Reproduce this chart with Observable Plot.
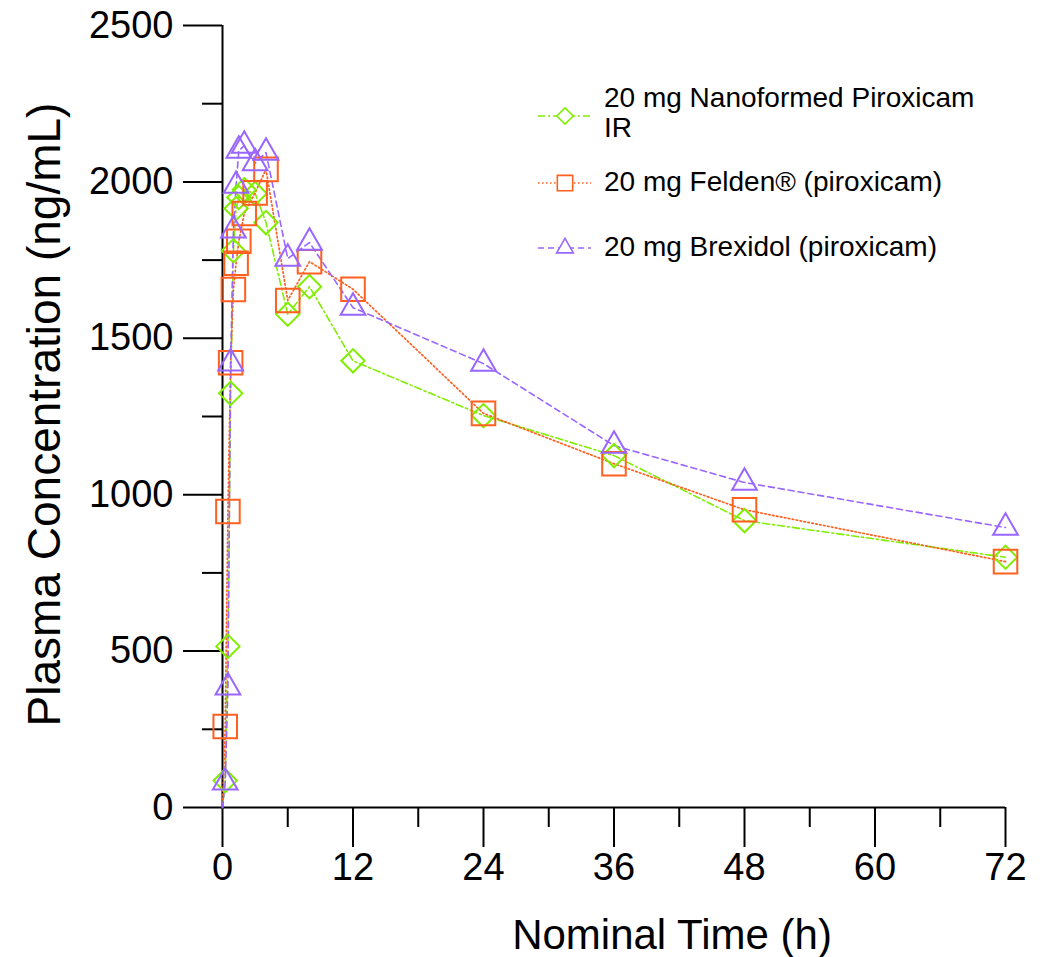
<!DOCTYPE html>
<html>
<head>
<meta charset="utf-8">
<script src="https://cdn.jsdelivr.net/npm/d3@7"></script>
<script src="https://cdn.jsdelivr.net/npm/@observablehq/plot@0.6"></script>
<style>
  html, body { margin: 0; padding: 0; background: #fff; }
  #wrap { position: relative; width: 1050px; height: 957px; }
  #legend { position: absolute; left: 0; top: 0; pointer-events: none; }
</style>
</head>
<body>
<div id="wrap"></div>
<script>
// ---- data ----
const times = [0, 0.25, 0.5, 0.75, 1, 1.25, 1.5, 2, 3, 4, 6, 8, 12, 24, 36, 48, 72];
const nanoformed = [0, 86, 515, 1324, 1780, 1915, 1950, 1975, 1963, 1870, 1577, 1665, 1428, 1253, 1125, 917, 800];
const felden     = [0, 259, 946, 1422, 1656, 1740, 1810, 1899, 1965, 2040, 1621, 1745, 1657, 1260, 1099, 952, 786];
const brexidol   = [0, 80, 384, 1420, 1845, 1988, 2100, 2116, 2060, 2094, 1755, 1806, 1598, 1419, 1157, 1039, 895];

const seriesNames = ["20 mg Nanoformed Piroxicam IR", "20 mg Felden® (piroxicam)", "20 mg Brexidol (piroxicam)"];
const legendLines = [["20 mg Nanoformed Piroxicam", "IR"], ["20 mg Felden® (piroxicam)"], ["20 mg Brexidol (piroxicam)"]];
const seriesColors = ["#80ee00", "#ff5f1f", "#9966ff"];
const yMajorTicks = [0, 500, 1000, 1500, 2000, 2500];
const yMinorTicks = [250, 750, 1250, 1750, 2250];
const xMajorTicks = [0, 12, 24, 36, 48, 60, 72];
const xMinorTicks = [6, 18, 30, 42, 54, 66];
const xTitle = "Nominal Time (h)";
const yTitle = "Plasma Concentration (ng/mL)";

// ---- styles per series ----
const styles = [
  {symbol: "diamond2", r: 10.5, dash: "7,3,2,3", width: 1.6},
  {symbol: "square2", r: 15, dash: "1.5,2.5", width: 1.7},
  {symbol: "triangle2", r: 11.8, dash: "6,4", width: 1.6}
];

const allValues = [nanoformed, felden, brexidol];
const tables = allValues.map((vals, i) => times.map((t, j) => ({t, c: vals[j], s: seriesNames[i]})));

const font = "'Liberation Sans', Arial, Helvetica, sans-serif";
const fmt = d => String(d);

const marks = [
  Plot.axisY(yMajorTicks, {tickSize: 39, tickPadding: 10, fontSize: 38, label: null, strokeWidth: 2, tickFormat: fmt}),
  Plot.axisY(yMinorTicks, {tickSize: 20, text: null, label: null, strokeWidth: 2}),
  Plot.axisX(xMajorTicks, {tickSize: 40, tickPadding: 6, fontSize: 38, label: null, strokeWidth: 2, tickFormat: fmt}),
  Plot.axisX(xMinorTicks, {tickSize: 20, text: null, label: null, strokeWidth: 2}),
  Plot.ruleX([0], {strokeWidth: 2}),
  Plot.ruleY([0], {strokeWidth: 2})
];

tables.forEach((tab, i) => {
  marks.push(Plot.line(tab, {x: "t", y: "c", stroke: seriesColors[i], strokeWidth: styles[i].width, strokeDasharray: styles[i].dash}));
});
tables.forEach((tab, i) => {
  marks.push(Plot.dot(tab, {filter: d => d.c > 0, x: "t", y: "c", symbol: styles[i].symbol, r: styles[i].r, stroke: seriesColors[i], fill: "none", strokeWidth: 2}));
});

marks.push(Plot.text([xTitle], {frameAnchor: "bottom", lineAnchor: "middle", textAnchor: "middle", dx: 58, dy: 128, fontSize: 42, fill: "#000"}));
marks.push(Plot.text([yTitle], {frameAnchor: "left", lineAnchor: "middle", textAnchor: "middle", rotate: -90, dx: -177, dy: -2, fontSize: 46, fill: "#000"}));

const chart = Plot.plot({
  width: 1050,
  height: 957,
  marginLeft: 222,
  marginRight: 45,
  marginTop: 25,
  marginBottom: 150,
  x: {domain: [0, 72]},
  y: {domain: [0, 2500]},
  style: {fontFamily: font, background: "#fff", color: "#000", overflow: "visible"},
  marks
});
document.getElementById("wrap").appendChild(chart);

// ---- legend overlay ----
const leg = d3.select("#wrap").append("svg").attr("id", "legend").attr("width", 1050).attr("height", 957);
const rowY = [116, 183, 248];
const legSymbols = [d3.symbolDiamond2, d3.symbolSquare2, d3.symbolTriangle2];
const legSizes = [170, 300, 200];
legendLines.forEach((lines, i) => {
  const g = leg.append("g");
  g.append("line").attr("x1", 538).attr("x2", 591).attr("y1", rowY[i]).attr("y2", rowY[i])
    .attr("stroke", seriesColors[i]).attr("stroke-width", 1.3).attr("stroke-dasharray", styles[i].dash);
  g.append("path").attr("d", d3.symbol(legSymbols[i], legSizes[i])())
    .attr("transform", `translate(565,${rowY[i]})`)
    .attr("fill", "#fff").attr("stroke", seriesColors[i]).attr("stroke-width", 1.6);
  const t = g.append("text").attr("x", 604).attr("font-family", font).attr("font-size", 28).attr("fill", "#000");
  const y0 = lines.length > 1 ? rowY[i] - 16 : rowY[i] + 1;
  lines.forEach((ln, k) => {
    t.append("tspan").attr("x", 604).attr("y", y0 + k * 30).attr("dominant-baseline", "middle").text(ln);
  });
});
</script>
</body>
</html>
